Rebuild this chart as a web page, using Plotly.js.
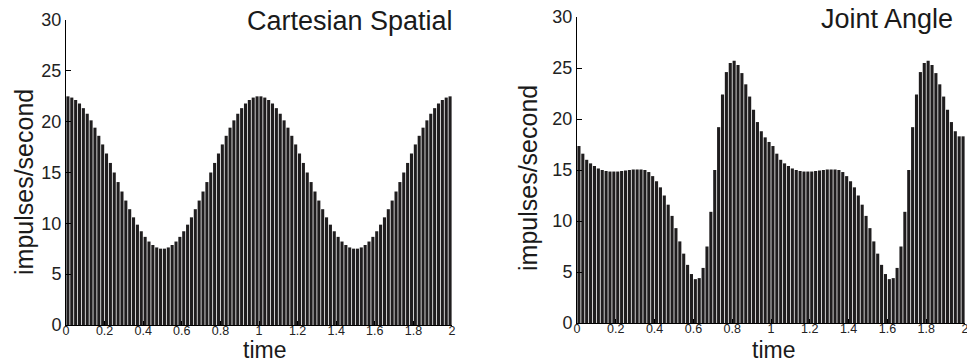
<!DOCTYPE html>
<html>
<head>
<meta charset="utf-8">
<script src="https://cdn.plot.ly/plotly-3.0.1.min.js"></script>
<style>
  html, body { margin: 0; padding: 0; background: #ffffff; }
  #chart { width: 967px; height: 364px; }
</style>
</head>
<body>
<div id="chart"></div>
<script>
// ---- data (firing rate per 0.02 s bin, time 0..2 s) ----
const binStart = 0.01;   // centre of first bin
const binWidth = 0.02;   // bin width (s)

const cartesianRate = [
  22.49, 22.37, 22.13, 21.79, 21.33, 20.78, 20.13, 19.41, 18.61, 17.76,
  16.87, 15.94, 15.00, 14.06, 13.13, 12.24, 11.39, 10.59, 9.87, 9.22,
  8.67, 8.21, 7.87, 7.63, 7.51, 7.51, 7.63, 7.87, 8.21, 8.67,
  9.22, 9.87, 10.59, 11.39, 12.24, 13.13, 14.06, 15.00, 15.94, 16.87,
  17.76, 18.61, 19.41, 20.13, 20.78, 21.33, 21.79, 22.13, 22.37, 22.49,
  22.49, 22.37, 22.13, 21.79, 21.33, 20.78, 20.13, 19.41, 18.61, 17.76,
  16.87, 15.94, 15.00, 14.06, 13.13, 12.24, 11.39, 10.59, 9.87, 9.22,
  8.67, 8.21, 7.87, 7.63, 7.51, 7.51, 7.63, 7.87, 8.21, 8.67,
  9.22, 9.87, 10.59, 11.39, 12.24, 13.13, 14.06, 15.00, 15.94, 16.87,
  17.76, 18.61, 19.41, 20.13, 20.78, 21.33, 21.79, 22.13, 22.37, 22.49
];

const jointRate = [
  17.35, 16.6, 16.0, 15.65, 15.4, 15.15, 15.0, 14.9, 14.85, 14.85,
  14.85, 14.9, 14.95, 15.0, 15.05, 15.05, 15.05, 15.0, 14.8, 14.4,
  13.9, 13.3, 12.5, 11.6, 10.5, 9.3, 8.0, 6.8, 5.7, 4.8,
  4.3, 4.4, 5.4, 7.5, 10.9, 15.0, 19.2, 22.4, 24.6, 25.5,
  25.7, 25.3, 24.5, 23.4, 22.2, 20.9, 19.7, 18.8, 18.2, 17.75,
  17.35, 16.6, 16.0, 15.65, 15.4, 15.15, 15.0, 14.9, 14.85, 14.85,
  14.85, 14.9, 14.95, 15.0, 15.05, 15.05, 15.05, 15.0, 14.8, 14.4,
  13.9, 13.3, 12.5, 11.6, 10.5, 9.3, 8.0, 6.8, 5.7, 4.8,
  4.3, 4.4, 5.4, 7.5, 10.9, 15.0, 19.2, 22.4, 24.6, 25.5,
  25.7, 25.3, 24.5, 23.4, 22.2, 20.9, 19.7, 18.8, 18.3, 18.3
];

const panelTitles = ["Cartesian Spatial", "Joint Angle"];
const xTickVals = [0, 0.2, 0.4, 0.6, 0.8, 1, 1.2, 1.4, 1.6, 1.8, 2];
const xTickText = ["0", "0.2", "0.4", "0.6", "0.8", "1", "1.2", "1.4", "1.6", "1.8", "2"];
const yTickVals = [0, 5, 10, 15, 20, 25, 30];
const xLabel = "time";
const yLabel = "impulses/second";

// ---- drawing ----
const W = 967, H = 364;
const px = v => v / W;
const py = v => (H - v) / H;
const FONT = "Liberation Sans, Arial, Helvetica, sans-serif";
const barColor = "#1f1d1e";

const traces = [
  { type: "bar", x0: binStart, dx: binWidth, y: cartesianRate,
    xaxis: "x", yaxis: "y", marker: { color: barColor, line: { width: 0 } },
    hoverinfo: "skip", showlegend: false },
  { type: "bar", x0: binStart, dx: binWidth, y: jointRate,
    xaxis: "x2", yaxis: "y2", marker: { color: barColor, line: { width: 0 } },
    hoverinfo: "skip", showlegend: false }
];

function xAxis(domain, anchor) {
  return {
    domain: domain, anchor: anchor, range: [0, 2], fixedrange: true,
    tickmode: "array", tickvals: xTickVals, ticktext: xTickText,
    ticks: "inside", ticklen: 4, tickcolor: "#000", tickwidth: 1,
    ticklabelstandoff: -6, ticklabeloverflow: "allow",
    showline: true, linecolor: "#000", linewidth: 1,
    showgrid: false, zeroline: false,
    tickfont: { family: FONT, size: 12.5, color: "#222" }
  };
}
function yAxis(domain, anchor) {
  return {
    domain: domain, anchor: anchor, range: [0, 30], fixedrange: true,
    tickmode: "array", tickvals: yTickVals,
    ticks: "inside", ticklen: 5, tickcolor: "#000", tickwidth: 1,
    showline: true, linecolor: "#000", linewidth: 1,
    showgrid: false, zeroline: false,
    tickfont: { family: FONT, size: 18, color: "#222" }
  };
}

const ann = (text, x, y, opts) => Object.assign({
  text: text, x: x, y: y, xref: "paper", yref: "paper", showarrow: false,
  font: { family: FONT, size: 25, color: "#1a1a1a" }
}, opts || {});

const layout = {
  width: W, height: H,
  margin: { l: 0, r: 0, t: 0, b: 0, pad: 0 },
  paper_bgcolor: "#ffffff", plot_bgcolor: "#ffffff",
  bargap: 0.2, showlegend: false,
  xaxis: xAxis([px(66), px(452)], "y"),
  yaxis: yAxis([py(325), py(20)], "x"),
  xaxis2: xAxis([px(577), px(965)], "y2"),
  yaxis2: yAxis([py(323), py(17)], "x2"),
  annotations: [
    ann(panelTitles[0], px(455), py(21), { xanchor: "right", yanchor: "middle", font: { family: FONT, size: 27, color: "#1a1a1a" } }),
    ann(panelTitles[1], px(955), py(19), { xanchor: "right", yanchor: "middle", font: { family: FONT, size: 27, color: "#1a1a1a" } }),
    ann(yLabel, px(24), py(182), { textangle: -90, xanchor: "center", yanchor: "middle" }),
    ann(yLabel, px(528), py(178), { textangle: -90, xanchor: "center", yanchor: "middle" }),
    ann(xLabel, px(264), 0, { xanchor: "center", yanchor: "bottom", borderpad: 0, font: { family: FONT, size: 23, color: "#1a1a1a" } }),
    ann(xLabel, px(773), 0, { xanchor: "center", yanchor: "bottom", borderpad: 0, font: { family: FONT, size: 23, color: "#1a1a1a" } })
  ]
};

Plotly.newPlot("chart", traces, layout, { staticPlot: true, displayModeBar: false });
</script>
</body>
</html>
